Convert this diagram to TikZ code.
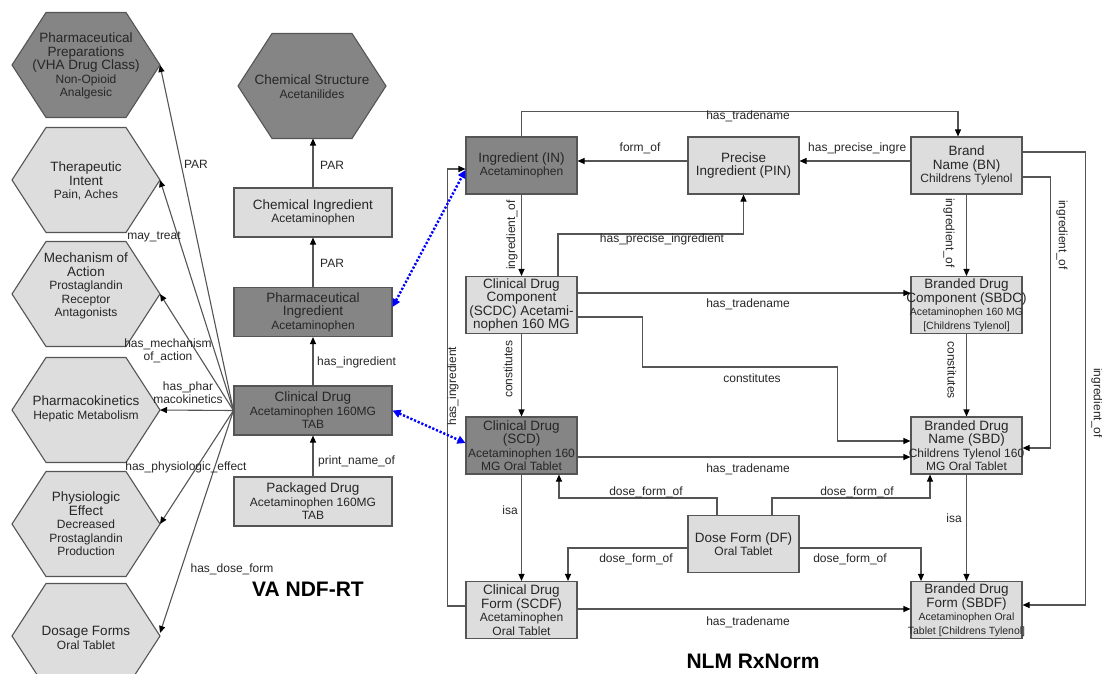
\documentclass[tikz,border=0pt]{standalone}
\usepackage{fontspec}
\setmainfont{Liberation Sans}
\usetikzlibrary{arrows.meta}

\definecolor{darkfill}{HTML}{858585}
\definecolor{lightfill}{HTML}{DDDDDD}
\definecolor{linegray}{HTML}{555555}
\definecolor{textgray}{HTML}{262626}

\newcommand\titlefont{\fontsize{13.5}{13.5}\selectfont}
\newcommand\subfont{\fontsize{12}{13}\selectfont}
\newcommand\smallfont{\fontsize{10.5}{12}\selectfont}
\newcommand\lblfont{\fontsize{12}{13}\selectfont}
\newcommand\wide[1]{\makebox[0pt]{#1}}

\tikzset{
  hexline/.style={draw=linegray, line width=1.1pt},
  hextext/.style={align=center, font=\titlefont, text=textgray, inner sep=0pt},
  rectbox/.style={draw=linegray, line width=1.1pt, align=center, inner sep=1pt, font=\titlefont, text=textgray},
  ndfbox/.style={rectbox, minimum width=158pt, minimum height=49pt},
  rxbox/.style={rectbox, minimum width=111pt, minimum height=57pt},
  edge/.style={draw=linegray, line width=1.1pt, -{Triangle[length=7pt,width=6pt,color=black]}},
  link/.style={draw=blue, line width=2.4pt, dash pattern=on 2.2pt off 1.8pt,
    {Triangle[length=8pt,width=8pt]}-{Triangle[length=8pt,width=8pt]}},
  lbl/.style={font=\lblfont, text=textgray, inner sep=0pt},
  heading/.style={font=\fontsize{21}{24}\selectfont\bfseries, text=black}
}

\begin{document}
\begin{tikzpicture}[x=1pt, y=-1pt]
\useasboundingbox (0,0) rectangle (1102,673);
\clip (0,0) rectangle (1102,673);

% hexagons
\foreach \x/\y/\f in {12/65/darkfill, 12/180/lightfill, 12/294/lightfill, 12/410/lightfill,
                      12/524/lightfill, 12/636/lightfill, 238/86/darkfill}
  \draw[hexline, fill=\f] (\x,\y) -- ++(34,-52.5) -- ++(80,0) -- ++(34,52.5)
    -- ++(-34,52.5) -- ++(-80,0) -- cycle;

\node[hextext] (prep) at (86,66) {Pharmaceutical\\Preparations\\(VHA Drug Class)\\{\subfont Non-Opioid}\\{\subfont Analgesic}};
\node[hextext] (intent) at (86,181) {Therapeutic\\Intent\\{\subfont Pain, Aches}};
\node[hextext] (mech) at (86,286) {Mechanism of\\Action\\{\subfont Prostaglandin}\\{\subfont Receptor}\\{\subfont Antagonists}};
\node[hextext] (pk) at (86,409) {Pharmacokinetics\\{\subfont Hepatic Metabolism}};
\node[hextext] (effect) at (86,524) {Physiologic\\Effect\\{\subfont Decreased}\\{\subfont Prostaglandin}\\{\subfont Production}};
\node[hextext] (dose) at (86,638) {Dosage Forms\\{\subfont Oral Tablet}};
\node[hextext] (chemstruct) at (312,86.5) {Chemical Structure\\{\subfont Acetanilides}};

\coordinate (prep-tip) at (160,65);
\coordinate (intent-tip) at (160,180);
\coordinate (mech-tip) at (160,294);
\coordinate (pk-tip) at (160,410);
\coordinate (effect-tip) at (160,524);
\coordinate (dose-tip) at (160,633);
\coordinate (chemstruct-bot) at (313,138.5);

% VA NDF-RT boxes
\node[ndfbox, fill=lightfill] (chemingr) at (313,212.5) {Chemical Ingredient\\{\subfont Acetaminophen}};
\node[ndfbox, fill=darkfill] (phingr) at (313,312) {Pharmaceutical\\Ingredient\\{\subfont Acetaminophen}};
\node[ndfbox, fill=darkfill] (cdrug) at (313,410.5) {Clinical Drug\\{\subfont Acetaminophen 160MG}\\{\subfont TAB}};
\node[ndfbox, fill=lightfill] (pkgdrug) at (313,501.5) {Packaged Drug\\{\subfont Acetaminophen 160MG}\\{\subfont TAB}};

\draw[edge] (chemingr.north) -- (chemstruct-bot);
\draw[edge] (phingr.north) -- (chemingr.south);
\draw[edge] (cdrug.north) -- (phingr.south);
\draw[edge] (pkgdrug.north) -- (cdrug.south);
\foreach \t in {prep, intent, mech, pk, effect, dose}
  \draw[edge] (cdrug.west) -- (\t-tip);

\node[lbl, anchor=west] (l-par1) at (320,165) {PAR};
\node[lbl, anchor=west] (l-par2) at (320,263) {PAR};
\node[lbl, anchor=west] (l-hasingr) at (317,362) {has\_ingredient};
\node[lbl, anchor=west] (l-print) at (318,461) {print\_name\_of};
\node[lbl] (l-par3) at (196,164) {PAR};
\node[lbl] (l-treat) at (154,237) {may\_treat};
\node[lbl, align=center] (l-mech) at (168,351) {has\_mechanism\\of\_action};
\node[lbl, align=center] (l-pk) at (188,393) {has\_phar\\macokinetics};
\node[lbl] (l-effect) at (186,467) {has\_physiologic\_effect};
\node[lbl] (l-dose) at (232,569) {has\_dose\_form};
\node[heading] (ndfrt) at (308,589) {VA NDF-RT};

% NLM RxNorm boxes
\node[rxbox, fill=darkfill] (in) at (521.5,165.5) {Ingredient (IN)\\{\subfont Acetaminophen}};
\node[rxbox, fill=lightfill] (pin) at (743.5,165.5) {Precise\\Ingredient (PIN)};
\node[rxbox, fill=lightfill] (bn) at (966.5,165.5) {Brand\\Name (BN)\\{\subfont Childrens Tylenol}};
\node[rxbox, fill=lightfill] (scdc) at (521.5,305) {Clinical Drug\\Component\\(SCDC) Acetami-\\nophen 160 MG};
\node[rxbox, fill=lightfill] (sbdc) at (966.5,305) {Branded Drug\\\wide{Component (SBDC)}\\{\smallfont\wide{Acetaminophen 160 MG}}\\{\smallfont [Childrens Tylenol]}};
\node[rxbox, fill=darkfill] (scd) at (521.5,445.5) {Clinical Drug\\(SCD)\\{\subfont\wide{Acetaminophen 160}}\\{\subfont MG Oral Tablet}};
\node[rxbox, fill=lightfill] (sbd) at (966.5,445.5) {Branded Drug\\Name (SBD)\\{\subfont\wide{Childrens Tylenol 160}}\\{\subfont MG Oral Tablet}};
\node[rxbox, fill=lightfill] (df) at (743.5,544) {Dose Form (DF)\\{\subfont Oral Tablet}};
\node[rxbox, fill=lightfill] (scdf) at (521.5,610) {Clinical Drug\\Form (SCDF)\\{\subfont Acetaminophen}\\{\subfont Oral Tablet}};
\node[rxbox, fill=lightfill] (sbdf) at (966.5,610) {Branded Drug\\Form (SBDF)\\{\smallfont Acetaminophen Oral}\\{\smallfont\wide{Tablet [Childrens Tylenol]}}};

\draw[edge] (in.north) -- ++(0,-25) -| ([xshift=-8.5pt]bn.north);
\draw[edge] ([yshift=4.5pt]pin.west) -- ([yshift=4.5pt]in.east);
\draw[edge] ([yshift=4.5pt]bn.west) -- ([yshift=4.5pt]pin.east);
\draw[edge] ([xshift=36.5pt]scdc.north) -- ++(0,-42) -| (pin.south);
\draw[edge] (in.south) -- (scdc.north);
\draw[edge] (bn.south) -- (sbdc.north);
\draw[edge] ([yshift=-11.5pt]bn.east) -- ++(28,0) |- ([yshift=-2.5pt]sbd.east);
\draw[edge] ([yshift=13.5pt]bn.east) -- ++(63,0) |- ([yshift=5pt]sbdf.east);
\draw[edge] ([yshift=12pt]scdc.east) -- ([yshift=12pt]sbdc.west);
\draw[edge] ([yshift=-12pt]scdc.east) -- ++(65,0) -- ++(0,50) -- ++(195,0) |- ([yshift=4.5pt]sbd.west);
\draw[edge] (sbdc.south) -- (sbd.north);
\draw[edge] (scdc.south) -- (scd.north);
\draw[edge] ([yshift=-11.5pt]scd.east) -- ([yshift=-11.5pt]sbd.west);
\draw[edge] ([yshift=4pt]scdf.west) -- ++(-18,0) |- ([yshift=-3.5pt]in.west);
\draw[edge] (scd.south) -- (scdf.north);
\draw[edge] (sbd.south) -- (sbdf.north);
\draw[edge] ([xshift=-26.5pt]df.north) -- ++(0,-17) -| ([xshift=37.5pt]scd.south);
\draw[edge] ([xshift=28.5pt]df.north) -- ++(0,-17) -| ([xshift=-36.5pt]sbd.south);
\draw[edge] ([yshift=-4pt]df.west) -| ([xshift=46.5pt]scdf.north);
\draw[edge] ([yshift=-4pt]df.east) -| ([xshift=-45.5pt]sbdf.north);
\draw[edge] ([yshift=1pt]scdf.east) -- ([yshift=1pt]sbdf.west);

% links between the two terminologies
\draw[link] ([yshift=5pt]phingr.east) -- ([yshift=-4.5pt]in.west);
\draw[link] (cdrug.east) -- ([yshift=2.5pt]scd.west);

\node[lbl] (l-trade1) at (748,116) {has\_tradename};
\node[lbl] (l-form) at (640,148) {form\_of};
\node[lbl, anchor=west] (l-precise1) at (808,148) {has\_precise\_ingre};
\node[lbl] (l-precise2) at (662,239) {has\_precise\_ingredient};
\node[lbl, rotate=90] (l-ingr1) at (512,235) {ingredient\_of};
\node[lbl, rotate=-90] (l-ingr2) at (949,233) {ingredient\_of};
\node[lbl, rotate=-90] (l-ingr3) at (1062,235) {ingredient\_of};
\node[lbl, rotate=-90] (l-ingr4) at (1097,403) {ingredient\_of};
\node[lbl] (l-trade2) at (748,304) {has\_tradename};
\node[lbl] (l-const1) at (752,378) {constitutes};
\node[lbl, rotate=90] (l-const2) at (508,369) {constitutes};
\node[lbl, rotate=-90] (l-const3) at (952,370) {constitutes};
\node[lbl] (l-trade3) at (748,469) {has\_tradename};
\node[lbl, rotate=90] (l-hasingr2) at (453,386) {has\_ingredient};
\node[lbl] (l-isa1) at (510,510) {isa};
\node[lbl] (l-isa2) at (954,518) {isa};
\node[lbl] (l-dform1) at (646,492) {dose\_form\_of};
\node[lbl] (l-dform2) at (857,492) {dose\_form\_of};
\node[lbl] (l-dform3) at (636,559) {dose\_form\_of};
\node[lbl] (l-dform4) at (850,559) {dose\_form\_of};
\node[lbl] (l-trade4) at (748,622) {has\_tradename};
\node[heading] (rxnorm) at (753,661) {NLM RxNorm};
\end{tikzpicture}
\end{document}
